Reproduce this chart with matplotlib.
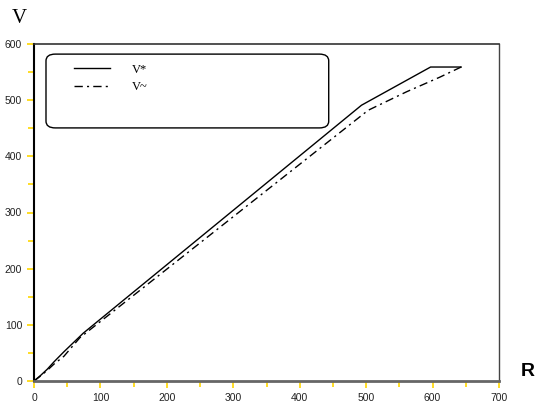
import matplotlib
matplotlib.use("Agg")
import matplotlib.pyplot as plt
from matplotlib.patches import FancyBboxPatch
from matplotlib.ticker import MultipleLocator

# Data
r_star = [0, 10, 20, 30, 45, 74, 493, 597, 643]
v_star = [0, 10, 21, 34, 52, 85, 491, 559, 559]
r_tilde = [0, 10, 20, 30, 45, 69, 503, 561, 611, 643]
v_tilde = [0, 9, 19, 30, 44, 77, 482, 515, 541, 559]
labels = ["V*", "V~"]
xticks = [0, 100, 200, 300, 400, 500, 600, 700]
yticks = [0, 100, 200, 300, 400, 500, 600]

fig = plt.figure(figsize=(5.36, 4.05), dpi=100)
ax = fig.add_axes([34/536, 1-381/405, 465/536, 337/405])

ax.plot(r_star, v_star, color="black", lw=1.0, label=labels[0])
ax.plot(r_tilde, v_tilde, color="black", lw=1.0, linestyle=(0, (6, 3, 1.5, 3)), label=labels[1])

ax.set_xlim(0, 700)
ax.set_ylim(0, 600)
ax.set_xticks(xticks)
ax.set_yticks(yticks)
ax.xaxis.set_minor_locator(MultipleLocator(50))
ax.yaxis.set_minor_locator(MultipleLocator(50))
tickcol = "#FFD700"
ax.tick_params(which="both", direction="out", color=tickcol, width=1.2, labelsize=7.5,
               labelcolor="#222222")
ax.tick_params(which="major", length=5)
ax.tick_params(which="minor", length=4)
for lab in ax.get_xticklabels() + ax.get_yticklabels():
    lab.set_family("Liberation Sans")

ax.spines["left"].set_color("black")
ax.spines["left"].set_linewidth(1.5)
ax.spines["bottom"].set_color("#666666")
ax.spines["bottom"].set_linewidth(2)
ax.spines["top"].set_color("#333333")
ax.spines["top"].set_linewidth(1.2)
ax.spines["right"].set_color("#444444")
ax.spines["right"].set_linewidth(1.0)

# Legend frame
box = FancyBboxPatch((0.0258, 0.751), 0.608, 0.219, transform=ax.transAxes,
                     boxstyle="round,pad=0,rounding_size=0.02", fc="white", ec="black",
                     lw=1.0, zorder=3)
ax.add_patch(box)
leg = ax.legend(loc="upper left", bbox_to_anchor=(0.062, 0.975), frameon=False,
                handlelength=2.9, handletextpad=1.7, labelspacing=0.45,
                prop={"family": "Liberation Serif", "size": 9})
leg.set_zorder(4)

fig.text(19/536, 1-18.5/405, "V", family="Liberation Serif", fontsize=15, ha="center", va="center")
fig.text(535/536, 1-371/405, "R", family="Liberation Sans", fontweight="bold", fontsize=14,
         ha="right", va="center")

fig.savefig("out.png", dpi=100)
